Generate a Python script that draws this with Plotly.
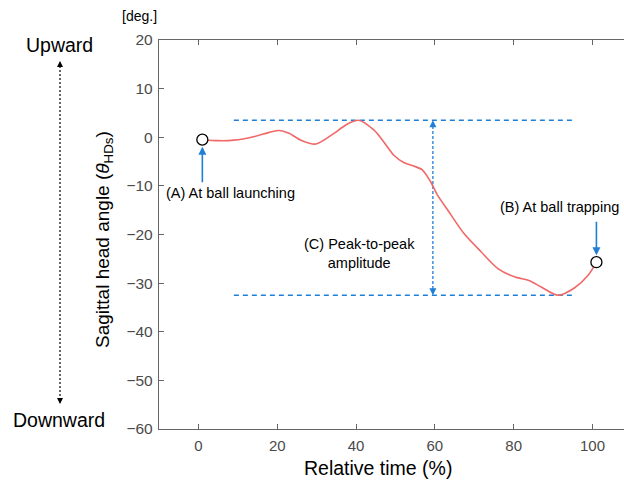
import plotly.graph_objects as go

# ---- data ----
time_pct = [1, 5, 9, 14, 18, 20.5, 23, 26, 29.8, 34.4, 36.1, 38.2, 40.7, 44.5, 47.0, 49.6,
            52.1, 54.6, 56.8, 58.9, 60.6, 63.3, 67.4, 71.8, 76, 80.2, 84, 87, 91.3, 95.4, 98.9, 101]
head_angle = [-0.5, -0.7, -0.6, 0.1, 1.0, 1.4, 0.8, -0.6, -1.4, 0.8, 1.8, 2.9, 3.5, 1.5, -0.9, -3.7,
              -5.2, -5.9, -6.7, -9.1, -11.8, -15.0, -19.8, -23.6, -27.0, -28.7, -29.5, -30.8, -32.5,
              -31.0, -28.4, -25.7]
x_ticks = [0, 20, 40, 60, 80, 100]
y_ticks = [20, 10, 0, -10, -20, -30, -40, -50, -60]
ref_line_x = [9, 95.5]          # extent of the dashed peak/trough lines
p2p_x = 59.5                    # position of peak-to-peak arrow
label_A = "(A) At ball launching"
label_B = "(B) At ball trapping"
label_C = "(C) Peak-to-peak<br>amplitude"

BLUE = "#1f7fd6"
RED = "#f06868"
FONT = "Liberation Sans, Arial, sans-serif"

W, H = 624, 481
ML, MR, MT, MB = 159, 0, 40, 52
PW, PH = W - ML - MR, H - MT - MB

def px(xp):
    return (xp - ML) / PW

def py(yp):
    return (H - MB - yp) / PH

ymax = max(head_angle)
ymin = min(head_angle)

fig = go.Figure()

# dashed peak / trough reference lines
for yv in (ymax, ymin):
    fig.add_trace(go.Scatter(x=ref_line_x, y=[yv, yv], mode="lines",
                             line=dict(color=BLUE, width=1.4, dash="5px,4px"),
                             hoverinfo="skip", showlegend=False))
# vertical peak-to-peak line
fig.add_trace(go.Scatter(x=[p2p_x, p2p_x], y=[ymax - 1.2, ymin + 1.2], mode="lines",
                         line=dict(color=BLUE, width=1.3, dash="3px,2px"),
                         hoverinfo="skip", showlegend=False))

# curve
fig.add_trace(go.Scatter(x=time_pct, y=head_angle, mode="lines",
                         line=dict(color=RED, width=1.6, shape="spline", smoothing=0.8),
                         showlegend=False))
# circles at start & end
fig.add_trace(go.Scatter(x=[time_pct[0], time_pct[-1]], y=[head_angle[0], head_angle[-1]],
                         mode="markers",
                         marker=dict(size=11, color="white", line=dict(color="black", width=1.3)),
                         showlegend=False))

TXT = dict(showarrow=False, xanchor="center", yanchor="middle")
ann = []
# peak-to-peak arrow heads
ann.append(dict(x=p2p_x, y=ymax, xref="x", yref="y", ax=0, ay=8, text="", showarrow=True,
                arrowhead=2, arrowsize=1, arrowwidth=1.4, arrowcolor=BLUE))
ann.append(dict(x=p2p_x, y=ymin, xref="x", yref="y", ax=0, ay=-8, text="", showarrow=True,
                arrowhead=2, arrowsize=1, arrowwidth=1.4, arrowcolor=BLUE))
# A and B arrows
ann.append(dict(x=time_pct[0], y=head_angle[0], xref="x", yref="y", ax=0, ay=44, text="",
                showarrow=True, arrowhead=2, arrowsize=1, arrowwidth=1.6, arrowcolor=BLUE, standoff=7))
ann.append(dict(x=time_pct[-1], y=head_angle[-1], xref="x", yref="y", ax=0, ay=-42, text="",
                showarrow=True, arrowhead=2, arrowsize=1, arrowwidth=1.6, arrowcolor=BLUE, standoff=7))
# labels
ann.append(dict(x=8.2, y=-11.5, xref="x", yref="y", text=label_A,
                font=dict(size=14.5, color="black", family=FONT), **TXT))
ann.append(dict(x=91.6, y=-14.4, xref="x", yref="y", text=label_B,
                font=dict(size=14.5, color="black", family=FONT), **TXT))
ann.append(dict(x=40.9, y=-23.9, xref="x", yref="y", text=label_C,
                font=dict(size=14.5, color="black", family=FONT), **TXT))
# axis titles
ann.append(dict(x=px(378), y=py(468), xref="paper", yref="paper", text="Relative time (%)",
                font=dict(size=19.5, color="black", family=FONT), **TXT))
ann.append(dict(x=px(104), y=py(240), xref="paper", yref="paper",
                text="Sagittal head angle (<i>θ</i><sub>HDs</sub>)", textangle=-90,
                font=dict(size=19, color="black", family=FONT), **TXT))
ann.append(dict(x=px(139), y=py(16), xref="paper", yref="paper", text="[deg.]",
                font=dict(size=14, color="black", family=FONT), **TXT))
ann.append(dict(x=px(59), y=py(45), xref="paper", yref="paper", text="Upward",
                font=dict(size=19.5, color="black", family=FONT), **TXT))
ann.append(dict(x=px(59), y=py(420), xref="paper", yref="paper", text="Downward",
                font=dict(size=19.5, color="black", family=FONT), **TXT))
# up / down arrow heads
ann.append(dict(x=px(60), y=py(61), xref="paper", yref="paper",
                ax=0, ay=7, text="", showarrow=True, arrowhead=2, arrowsize=1, arrowwidth=1.2,
                arrowcolor="black"))
ann.append(dict(x=px(60), y=py(404), xref="paper", yref="paper",
                ax=0, ay=-7, text="", showarrow=True, arrowhead=2, arrowsize=1, arrowwidth=1.2,
                arrowcolor="black"))

shapes = [dict(type="line", xref="paper", yref="paper", x0=px(60), x1=px(60), y0=py(66), y1=py(399),
               line=dict(color="black", width=1.2, dash="2px,2px"))]

fig.update_layout(
    width=W, height=H,
    margin=dict(l=ML, r=MR, t=MT, b=MB),
    plot_bgcolor="white", paper_bgcolor="white",
    font=dict(family=FONT),
    annotations=ann, shapes=shapes,
    xaxis=dict(range=[-10, 108], tickvals=x_ticks, ticks="inside", ticklen=5, tickwidth=1.2,
               tickcolor="#666", showline=True, linecolor="#666", linewidth=1.4, mirror="ticks",
               showgrid=False, zeroline=False, ticklabelstandoff=3,
               tickfont=dict(size=15, color="#4a4a4a", family=FONT)),
    yaxis=dict(range=[-60, 20], tickvals=y_ticks, ticks="inside", ticklen=5, tickwidth=1.2,
               tickcolor="#666", showline=True, linecolor="#666", linewidth=1.4,
               showgrid=False, zeroline=False, ticklabelstandoff=2,
               tickfont=dict(size=15.5, color="#4a4a4a", family=FONT)),
)

fig.write_html("out.html", config={"displayModeBar": False},
               post_script="document.body.style.margin='0';document.body.style.overflow='hidden';")
